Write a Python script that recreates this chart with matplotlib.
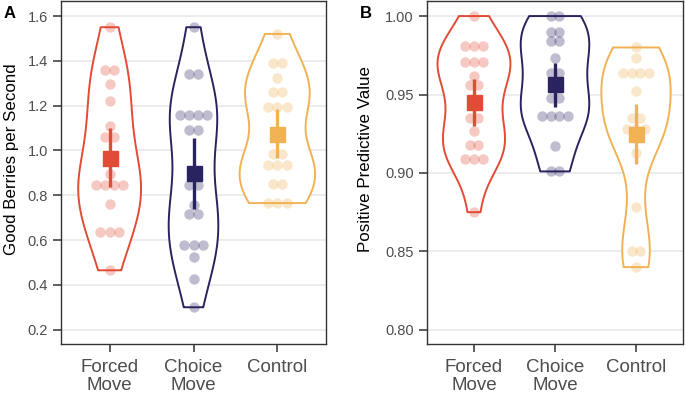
import numpy as np
import matplotlib.pyplot as plt

plt.rcParams['font.family'] = ['Liberation Sans', 'DejaVu Sans']

# categories and colours
groups = ['Forced\nMove', 'Choice\nMove', 'Control']
colors = ['#E24B36', '#29245F', '#F0B254']

# panel A: good berries per second (one value per participant)
berries_forced = [1.55, 1.36, 1.36, 1.295, 1.22, 1.11, 1.06, 1.06, 0.895,
                  0.845, 0.845, 0.845, 0.845, 0.76, 0.635, 0.635, 0.635, 0.465]
berries_choice = [1.55, 1.34, 1.34, 1.16, 1.16, 1.16, 1.16, 1.09, 1.09,
                  0.845, 0.845, 0.755, 0.715, 0.715, 0.58, 0.58, 0.58,
                  0.525, 0.425, 0.30]
berries_control = [1.52, 1.39, 1.39, 1.325, 1.26, 1.26, 1.195, 1.195, 1.195,
                   0.985, 0.985, 0.935, 0.935, 0.935, 0.85, 0.85,
                   0.765, 0.765, 0.765]
berries_mean = [0.967, 0.898, 1.074]
berries_lo = [0.838, 0.737, 0.967]
berries_hi = [1.101, 1.057, 1.183]

# panel B: positive predictive value
ppv_forced = [1.0, 0.981, 0.981, 0.981, 0.971, 0.971, 0.971, 0.962,
              0.956, 0.956, 0.935, 0.935, 0.927, 0.918, 0.918,
              0.909, 0.909, 0.909, 0.875]
ppv_choice = [1.0, 1.0, 0.990, 0.990, 0.984, 0.984, 0.973, 0.964, 0.964,
              0.948, 0.948, 0.936, 0.936, 0.936, 0.936, 0.917, 0.901, 0.901]
ppv_control = [0.980, 0.973, 0.964, 0.964, 0.964, 0.964, 0.952, 0.935, 0.935,
               0.928, 0.928, 0.928, 0.9125, 0.878, 0.850, 0.850, 0.840]
ppv_mean = [0.945, 0.9565, 0.9246]
ppv_lo = [0.930, 0.942, 0.9055]
ppv_hi = [0.960, 0.970, 0.944]


def density(vals, grid):
    # gaussian kde with R's bw.nrd0
    v = np.asarray(vals)
    sd = v.std(ddof=1)
    q75, q25 = np.percentile(v, [75, 25])
    h = 0.9 * min(sd, (q75 - q25) / 1.34) * len(v) ** -0.2
    z = (grid[:, None] - v[None, :]) / h
    return np.exp(-0.5 * z ** 2).sum(axis=1) / (len(v) * h * np.sqrt(2 * np.pi))


def panel(ax, data, means, lo, hi, ylim, yticks, fmt, ylabel):
    grids = [np.linspace(min(d), max(d), 512) for d in data]
    dens = [density(d, g) for d, g in zip(data, grids)]
    dmax = max(d.max() for d in dens)
    for i, (vals, g, d, col) in enumerate(zip(data, grids, dens, colors)):
        pos = i + 1
        half = 0.45 * d / dmax
        ax.fill_betweenx(g, pos - half, pos + half, facecolor='white',
                         edgecolor='none', zorder=1.5)
        ax.fill_betweenx(g, pos - half, pos + half, facecolor='none',
                         edgecolor=col, lw=1.4, zorder=2.5)
        # simple swarm: spread identical values side by side
        vals = np.asarray(vals)
        xs = np.full(len(vals), float(pos))
        for u in np.unique(vals):
            idx = np.where(vals == u)[0]
            k = len(idx)
            xs[idx] = pos + (np.arange(k) - (k - 1) / 2) * 0.11
        ax.scatter(xs, vals, s=56, color=col, alpha=0.3, lw=0, zorder=2)
        ax.plot([pos, pos], [lo[i], hi[i]], color=col, lw=2.4, zorder=3,
                solid_capstyle='butt')
        ax.plot(pos, means[i], marker='s', ms=10.8, color=col, zorder=3.5)

    ax.set_xlim(0.42, 3.58)
    ax.set_ylim(*ylim)
    ax.set_xticks([1, 2, 3])
    ax.set_xticklabels(groups, fontsize=13.5)
    for t in ax.get_xticklabels():
        t.set_linespacing(1.1)
    ax.set_yticks(yticks)
    ax.set_yticklabels([fmt.format(t) for t in yticks], fontsize=10.5)
    ax.yaxis.grid(True, color='#EBEBEB', lw=1.3)
    ax.set_axisbelow(True)
    ax.tick_params(length=5.5, width=1.1, color='#333333', labelcolor='#4D4D4D')
    ax.tick_params(axis='x', pad=5)
    ax.tick_params(axis='y', pad=4)
    for s in ax.spines.values():
        s.set_color('#333333')
        s.set_linewidth(1.0)
    ax.set_ylabel(ylabel, fontsize=12.2, color='black')


fig = plt.figure(figsize=(6.85, 3.95), dpi=100)
ax1 = fig.add_axes([61 / 685, 51 / 395, 265 / 685, 343 / 395])
ax2 = fig.add_axes([427 / 685, 51 / 395, 256 / 685, 343 / 395])

panel(ax1, [berries_forced, berries_choice, berries_control],
      berries_mean, berries_lo, berries_hi, (0.136, 1.667),
      [0.2, 0.4, 0.6, 0.8, 1.0, 1.2, 1.4, 1.6], '{:.1f}',
      'Good Berries per Second')
panel(ax2, [ppv_forced, ppv_choice, ppv_control],
      ppv_mean, ppv_lo, ppv_hi, (0.791, 1.0096),
      [0.80, 0.85, 0.90, 0.95, 1.00], '{:.2f}',
      'Positive Predictive Value')
ax1.yaxis.set_label_coords(-0.158, 0.54)
ax2.yaxis.set_label_coords(-0.21, 0.54)

fig.text(4 / 685, 1 - 18 / 395, 'A', fontsize=12, fontweight='bold')
fig.text(360 / 685, 1 - 18 / 395, 'B', fontsize=12, fontweight='bold')

fig.savefig('out.png', dpi=100)
